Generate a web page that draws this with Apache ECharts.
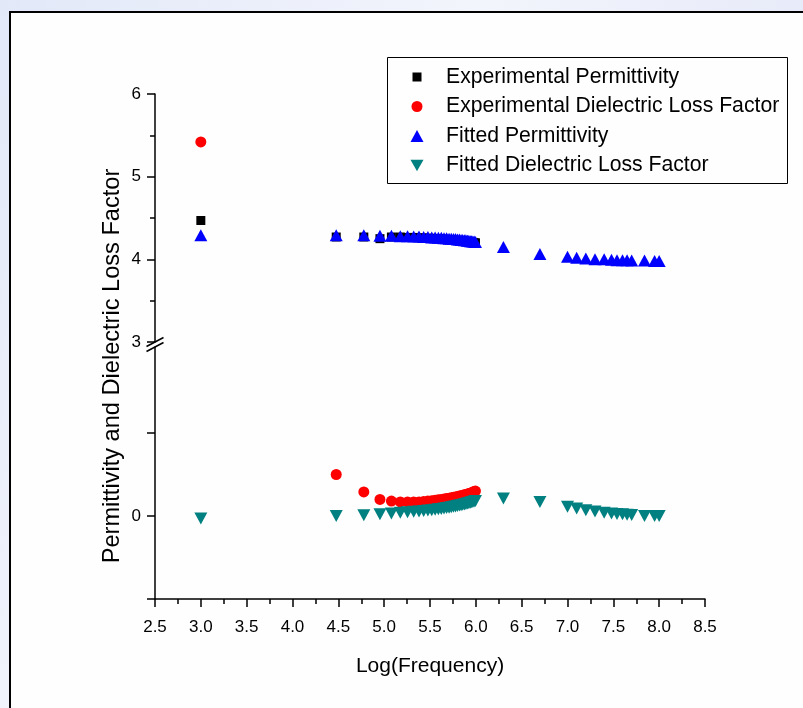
<!DOCTYPE html>
<html>
<head>
<meta charset="utf-8">
<script src="https://cdn.jsdelivr.net/npm/echarts@6/dist/echarts.min.js"></script>
<style>
  html, body { margin: 0; padding: 0; }
  body { width: 803px; height: 708px; overflow: hidden; position: relative;
         background: linear-gradient(120deg, #e2e8f8 0%, #f3f5fc 40%, #e6e9f8 70%, #eef3fb 100%); }
  #frame { position: absolute; left: 9px; top: 11px; width: 820px; height: 720px;
           background: #fefefe; border: 2px solid #000; box-sizing: border-box; }
  #chart { position: absolute; left: 0; top: 0; width: 803px; height: 708px; }
</style>
</head>
<body>
<div id="frame"></div>
<div id="chart"></div>
<script>
// Log(Frequency) values of the experimental points
const logFreqExp = [3.0, 4.477, 4.778, 4.954, 5.079, 5.176, 5.255, 5.322, 5.380, 5.431, 5.477, 5.519,
  5.556, 5.591, 5.623, 5.653, 5.681, 5.708, 5.732, 5.756, 5.778, 5.799, 5.820, 5.839, 5.857, 5.875,
  5.892, 5.908, 5.924, 5.940, 5.954, 5.968, 5.982, 5.996];
// Log(Frequency) values of the fitted points
const logFreqFit = [3.0, 4.477, 4.778, 4.954, 5.079, 5.176, 5.255, 5.322, 5.380, 5.431, 5.477, 5.519,
  5.556, 5.591, 5.623, 5.653, 5.681, 5.708, 5.732, 5.756, 5.778, 5.799, 5.820, 5.839, 5.857, 5.875,
  5.892, 5.908, 5.924, 5.940, 5.954, 5.968, 5.982, 5.996,
  6.301, 6.699, 7.0, 7.1, 7.2, 7.3, 7.4, 7.48, 7.54, 7.6, 7.65, 7.7, 7.84, 7.95, 8.0];

const expPermittivity = [4.47, 4.27, 4.27, 4.25, 4.27, 4.27, 4.265, 4.265, 4.26, 4.26, 4.255, 4.255,
  4.25, 4.25, 4.245, 4.245, 4.24, 4.24, 4.235, 4.235, 4.23, 4.23, 4.225, 4.225, 4.22, 4.22,
  4.215, 4.215, 4.21, 4.21, 4.205, 4.205, 4.2, 4.2];
const expLossFactor = [5.42, 0.50, 0.29, 0.20, 0.18, 0.17, 0.17, 0.17, 0.17, 0.175, 0.18, 0.185,
  0.19, 0.195, 0.20, 0.205, 0.21, 0.215, 0.22, 0.225, 0.23, 0.235, 0.24, 0.245, 0.25, 0.255,
  0.26, 0.265, 0.27, 0.275, 0.28, 0.29, 0.295, 0.30];
const fitPermittivity = [4.29, 4.29, 4.29, 4.285, 4.285, 4.28, 4.28, 4.275, 4.275, 4.27, 4.27, 4.265,
  4.265, 4.26, 4.26, 4.255, 4.255, 4.25, 4.25, 4.245, 4.245, 4.24, 4.24, 4.235, 4.235, 4.23,
  4.23, 4.225, 4.225, 4.22, 4.22, 4.215, 4.215, 4.21,
  4.15, 4.065, 4.03, 4.02, 4.01, 4.0, 4.0, 3.995, 3.99, 3.99, 3.99, 3.985, 3.985, 3.98, 3.98];
const fitLossFactor = [-0.03, 0.0, 0.01, 0.02, 0.03, 0.04, 0.045, 0.05, 0.055, 0.06, 0.065, 0.07,
  0.075, 0.08, 0.085, 0.09, 0.095, 0.10, 0.105, 0.11, 0.115, 0.12, 0.125, 0.13, 0.135, 0.14,
  0.145, 0.15, 0.155, 0.16, 0.165, 0.17, 0.175, 0.18,
  0.21, 0.17, 0.11, 0.09, 0.07, 0.055, 0.04, 0.03, 0.025, 0.02, 0.015, 0.012, 0.0, 0.0, 0.0];

const seriesNames = ['Experimental Permittivity', 'Experimental Dielectric Loss Factor',
  'Fitted Permittivity', 'Fitted Dielectric Loss Factor'];
const xTickLabels = ['2.5','3.0','3.5','4.0','4.5','5.0','5.5','6.0','6.5','7.0','7.5','8.0','8.5'];
const upperYTicks = [3, 4, 5, 6];
const lowerYLabels = [0];

const FONT = 'Liberation Sans';
const BREAK_AT = 3; // values >= BREAK_AT go to the upper axis segment

const downTri = 'path://M0,0L20,0L10,18Z';
const styles = [
  { symbol: 'rect', size: [9, 9], color: '#000000', icon: 'rect', iw: 9, ih: 9 },
  { symbol: 'circle', size: 11, color: '#ff0000', icon: 'circle', iw: 11, ih: 11 },
  { symbol: 'triangle', size: [13, 12], color: '#0000ff', icon: 'triangle', iw: 13, ih: 12 },
  { symbol: downTri, size: [13, 12], color: '#008080', icon: downTri, iw: 13, ih: 12 }
];
const datasets = [
  [logFreqExp, expPermittivity],
  [logFreqExp, expLossFactor],
  [logFreqFit, fitPermittivity],
  [logFreqFit, fitLossFactor]
];

const series = [];
datasets.forEach(([xs, ys], k) => {
  const up = [], low = [];
  xs.forEach((x, i) => (ys[i] >= BREAK_AT ? up : low).push([x, ys[i]]));
  const st = styles[k];
  [[up, 0], [low, 1]].forEach(([data, idx]) => {
    series.push({
      type: 'scatter', name: seriesNames[k], xAxisIndex: idx, yAxisIndex: idx,
      data, symbol: st.symbol, symbolSize: st.size, z: 2 + k,
      itemStyle: { color: st.color, opacity: 1 }, emphasis: { disabled: true }, silent: true
    });
  });
});

const rowCenters = [77, 106.5, 136, 165.5];
const legends = seriesNames.map((n, k) => {
  const st = styles[k];
  return {
    data: [{ name: n, icon: st.icon }],
    left: 417 - st.iw / 2, top: rowCenters[k] - 11, padding: 0,
    itemWidth: st.iw, itemHeight: st.ih, selectedMode: false,
    textStyle: { fontFamily: FONT, fontSize: 21.2, color: '#000', lineHeight: 22,
                 padding: [0, 0, 0, 29 - st.iw / 2 - 5] }
  };
});

const axisCol = { color: '#000', width: 1.5 };
const option = {
  animation: false,
  backgroundColor: 'transparent',
  textStyle: { fontFamily: FONT },
  legend: legends,
  grid: [
    { left: 155, top: 94, width: 550, height: 248 },
    { left: 155, top: 347, width: 550, height: 252 }
  ],
  xAxis: [
    { gridIndex: 0, type: 'value', min: 2.5, max: 8.5, show: false },
    { gridIndex: 1, type: 'value', min: 2.5, max: 8.5, interval: 0.5,
      axisLine: { onZero: false, lineStyle: axisCol },
      axisTick: { length: 8, lineStyle: axisCol },
      minorTick: { show: true, splitNumber: 2, length: 5, lineStyle: axisCol },
      splitLine: { show: false },
      axisLabel: { fontSize: 17, color: '#000', margin: 20, fontFamily: FONT,
        formatter: v => xTickLabels[Math.round((v - 2.5) / 0.5)] },
      name: 'Log(Frequency)', nameLocation: 'middle', nameGap: 57,
      nameTextStyle: { fontSize: 21, color: '#000', fontFamily: FONT } }
  ],
  yAxis: [
    { gridIndex: 0, type: 'value', min: 3, max: 6, interval: 1,
      axisLine: { show: true, onZero: false, lineStyle: axisCol },
      axisTick: { show: true, length: 8, lineStyle: axisCol },
      minorTick: { show: true, splitNumber: 2, length: 5, lineStyle: axisCol },
      splitLine: { show: false },
      axisLabel: { fontSize: 17, color: '#000', margin: 14, fontFamily: FONT,
        formatter: v => upperYTicks.includes(v) ? String(v) : '' } },
    { gridIndex: 1, type: 'value', min: -1, max: 2.036, interval: 1,
      axisLine: { show: true, onZero: false, lineStyle: axisCol },
      axisTick: { show: true, length: 8, lineStyle: axisCol, customValues: [-1, 0, 1] },
      splitLine: { show: false },
      axisLabel: { fontSize: 17, color: '#000', margin: 14, fontFamily: FONT,
        customValues: lowerYLabels, formatter: v => String(v) } }
  ],
  graphic: [
    { type: 'text', x: 112, y: 366, rotation: Math.PI / 2, silent: true,
      style: { text: 'Permittivity and Dielectric Loss Factor', fontFamily: FONT, fontSize: 23.6,
               fill: '#000', align: 'center', verticalAlign: 'middle' } },
    { type: 'rect', silent: true, z: 0,
      shape: { x: 387.5, y: 57.5, width: 400, height: 126 },
      style: { fill: 'none', stroke: '#000', lineWidth: 1 } },
    { type: 'line', silent: true, shape: { x1: 146.5, y1: 346.5, x2: 163.5, y2: 337.5 },
      style: { stroke: '#000', lineWidth: 1.5 } },
    { type: 'line', silent: true, shape: { x1: 146.5, y1: 351.5, x2: 163.5, y2: 342.5 },
      style: { stroke: '#000', lineWidth: 1.5 } }
  ],
  series
};

const chart = echarts.init(document.getElementById('chart'), null, { renderer: 'canvas', width: 803, height: 708 });
chart.setOption(option);
</script>
</body>
</html>
